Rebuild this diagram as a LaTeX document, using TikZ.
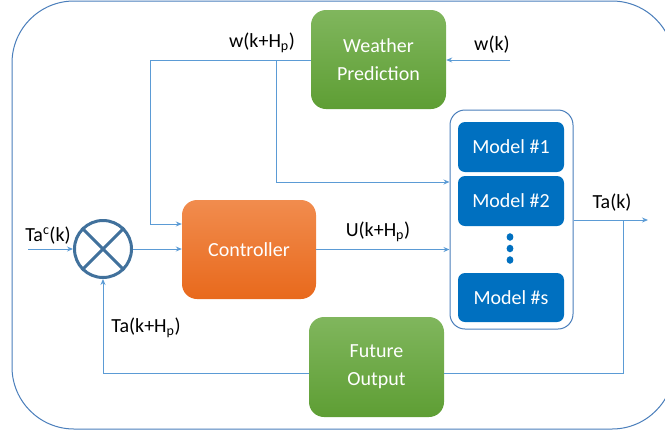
\documentclass[tikz,border=0pt]{standalone}
\usepackage{fontspec}
\setmainfont{Carlito}
\usetikzlibrary{arrows.meta}
\definecolor{linec}{HTML}{5B9BD5}
\definecolor{framec}{HTML}{4A7EBB}
\definecolor{sumc}{HTML}{41719C}
\definecolor{gtop}{HTML}{80B65D}
\definecolor{gbot}{HTML}{5E9E34}
\definecolor{otop}{HTML}{F18C4E}
\definecolor{obot}{HTML}{E8691C}
\definecolor{modc}{HTML}{0070C0}
\tikzset{
  txt/.style={font=\fontsize{20}{28}\selectfont, text=black, inner sep=0pt},
  greenbox/.style={rounded corners=15pt, top color=gtop, bottom color=gbot, draw=none,
    text=white, align=center, font=\fontsize{20}{28}\selectfont,
    minimum width=135pt, minimum height=99pt, inner sep=0pt},
  orangebox/.style={rounded corners=15pt, top color=otop, bottom color=obot, draw=none,
    text=white, align=center, font=\fontsize{20}{28}\selectfont,
    minimum width=134pt, minimum height=99pt, inner sep=0pt},
  modelbox/.style={rounded corners=7pt, fill=modc, draw=none, text=white,
    font=\fontsize{20}{24}\selectfont, minimum width=106pt, minimum height=50pt, inner sep=0pt},
  conn/.style={draw=linec, line width=0.9pt},
  arr/.style={conn, -{Stealth[length=6pt,width=5pt]}},
}
\begin{document}
\begin{tikzpicture}[x=1pt,y=-1pt]
\useasboundingbox (0,0) rectangle (665,432);
% outer frame
\draw[framec, line width=1pt, rounded corners=62pt] (12,1) rectangle (674,429);

% nodes
\node[greenbox] (wp) at (378.5,59.5) {Weather\\Prediction};
\node[orangebox] (ctrl) at (249,249.5) {Controller};
\node[greenbox, minimum height=100pt] (fut) at (376.5,367) {Future\\Output};
\node[draw=framec, line width=1pt, fill=white, rounded corners=15pt,
      minimum width=123pt, minimum height=219pt, inner sep=0pt] (mods) at (511.5,219.5) {};
\node[modelbox] (m1) at (511,147) {Model \#1};
\node[modelbox] (m2) at (511,201) {Model \#2};
\node[modelbox, minimum height=49pt] (ms) at (511,297.5) {Model \#s};
\fill[modc] (510,237) ellipse (3.4pt and 3.8pt);
\fill[modc] (510,248.5) ellipse (3.4pt and 3.8pt);
\fill[modc] (510,260) ellipse (3.4pt and 3.8pt);

\node[circle, draw=sumc, line width=3pt, minimum size=57pt, inner sep=0pt] (sum) at (103,249) {};
\draw[sumc, line width=3pt] (sum.north west) -- (sum.south east);
\draw[sumc, line width=3pt] (sum.north east) -- (sum.south west);

% coordinates
\coordinate (win) at (510,60);
\coordinate (c1) at (150,224);
\coordinate (b1) at (276,60);
\coordinate (b2) at (276,182);
\coordinate (tin) at (28,249);
\coordinate (out) at (648,220);
\coordinate (o1) at (623,220);
\coordinate (o2) at (623,373);
\coordinate (f1) at (103,373);

% connectors
\draw[arr] (win) -- (win -| wp.east);
\draw[arr] (wp.west |- b1) -| (c1) -- (c1 -| ctrl.west);
\draw[arr] (b1) -- (b2) -- (b2 -| mods.west);
\draw[arr] (tin) -- (sum.west);
\draw[arr] (sum.east) -- (sum.east -| ctrl.west);
\draw[arr] (ctrl.east) -- (ctrl.east -| mods.west);
\draw[arr] (mods.east |- out) -- (out);
\draw[conn] (o1) -- (o2) -- (o2 -| fut.east);
\draw[arr] (fut.west |- f1) -- (f1) -- (sum.south);

% labels
\node[txt] (lw) at (262,43) {w(k+H\textsubscript{p})};
\node[txt] (lwk) at (492,45) {w(k)};
\node[txt] (ltc) at (48,236) {Ta\textsuperscript{c}(k)};
\node[txt] (lu) at (378,232) {U(k+H\textsubscript{p})};
\node[txt] (lta) at (612,203) {Ta(k)};
\node[txt] (ltf) at (146,328) {Ta(k+H\textsubscript{p})};
\end{tikzpicture}
\end{document}
